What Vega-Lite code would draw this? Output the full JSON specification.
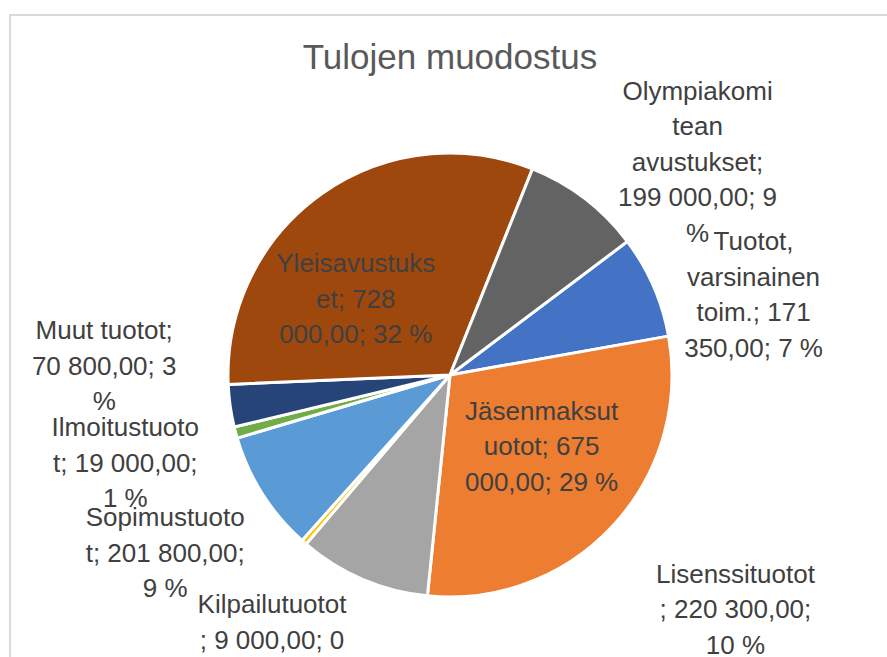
{
  "$schema": "https://vega.github.io/schema/vega-lite/v6.json",
  "width": 880,
  "height": 720,
  "autosize": {"type": "none"},
  "padding": {"left": 10, "top": 15, "right": 0, "bottom": 0},
  "background": "white",
  "view": {"stroke": "#D9D9D9", "strokeWidth": 2, "fill": "white"},
  "title": {
    "text": "Tulojen muodostus",
    "font": "Liberation Sans",
    "fontSize": 35,
    "fontWeight": "normal",
    "color": "#595959",
    "anchor": "middle",
    "frame": "group",
    "baseline": "alphabetic",
    "offset": 0,
    "dy": 89
  },
  "data": {
    "values": [
      {"nro": 0, "tulo": "Tuotot, varsinainen toim.", "arvo": 171350, "nimio": "Tuotot,\nvarsinainen\ntoim.; 171\n350,00; 7 %"},
      {"nro": 1, "tulo": "Jäsenmaksutuotot", "arvo": 675000, "nimio": "Jäsenmaksut\nuotot; 675\n000,00; 29 %"},
      {"nro": 2, "tulo": "Lisenssituotot", "arvo": 220300, "nimio": "Lisenssituotot\n; 220 300,00;\n10 %"},
      {"nro": 3, "tulo": "Kilpailutuotot", "arvo": 9000, "nimio": "Kilpailutuotot\n; 9 000,00; 0\n%"},
      {"nro": 4, "tulo": "Sopimustuotot", "arvo": 201800, "nimio": "Sopimustuoto\nt; 201 800,00;\n9 %"},
      {"nro": 5, "tulo": "Ilmoitustuotot", "arvo": 19000, "nimio": "Ilmoitustuoto\nt; 19 000,00;\n1 %"},
      {"nro": 6, "tulo": "Muut tuotot", "arvo": 70800, "nimio": "Muut tuotot;\n70 800,00; 3\n%"},
      {"nro": 7, "tulo": "Yleisavustukset", "arvo": 728000, "nimio": "Yleisavustuks\net; 728\n000,00; 32 %"},
      {"nro": 8, "tulo": "Olympiakomitean avustukset", "arvo": 199000, "nimio": "Olympiakomi\ntean\navustukset;\n199 000,00; 9\n%"}
    ]
  },
  "encoding": {
    "theta": {"field": "arvo", "type": "quantitative", "stack": true, "scale": {"range": [0.9256, 7.2088]}},
    "order": {"field": "nro", "type": "quantitative"},
    "detail": {"field": "tulo", "type": "nominal"}
  },
  "layer": [
    {
      "mark": {"type": "arc", "outerRadius": 222, "stroke": "white", "strokeWidth": 3},
      "encoding": {
        "color": {
          "field": "tulo",
          "type": "nominal",
          "sort": null,
          "legend": null,
          "scale": {
            "domain": ["Tuotot, varsinainen toim.", "Jäsenmaksutuotot", "Lisenssituotot", "Kilpailutuotot", "Sopimustuotot", "Ilmoitustuotot", "Muut tuotot", "Yleisavustukset", "Olympiakomitean avustukset"],
            "range": ["#4472C4", "#ED7D31", "#A5A5A5", "#FFC000", "#5B9BD5", "#70AD47", "#264478", "#9E480E", "#636363"]
          }
        }
      }
    },
    {
      "mark": {
        "type": "text",
        "radius": {"expr": "[330, 125, 330, 330, 330, 330, 330, 125, 330][datum.nro]"},
        "dx": {"expr": "[1, 0, 415, 39, -6, -6, -19, -22, 47][datum.nro]"},
        "dy": {"expr": "[-1, -48.5, -103.5, -18.5, -33.5, -32.5, -89.5, -8.5, -21][datum.nro]"},
        "font": "Liberation Sans",
        "fontSize": 26,
        "fill": "#404040",
        "lineBreak": "\n",
        "lineHeight": 35.5,
        "align": "center",
        "baseline": "middle"
      },
      "encoding": {"text": {"field": "nimio", "type": "nominal"}}
    }
  ]
}
